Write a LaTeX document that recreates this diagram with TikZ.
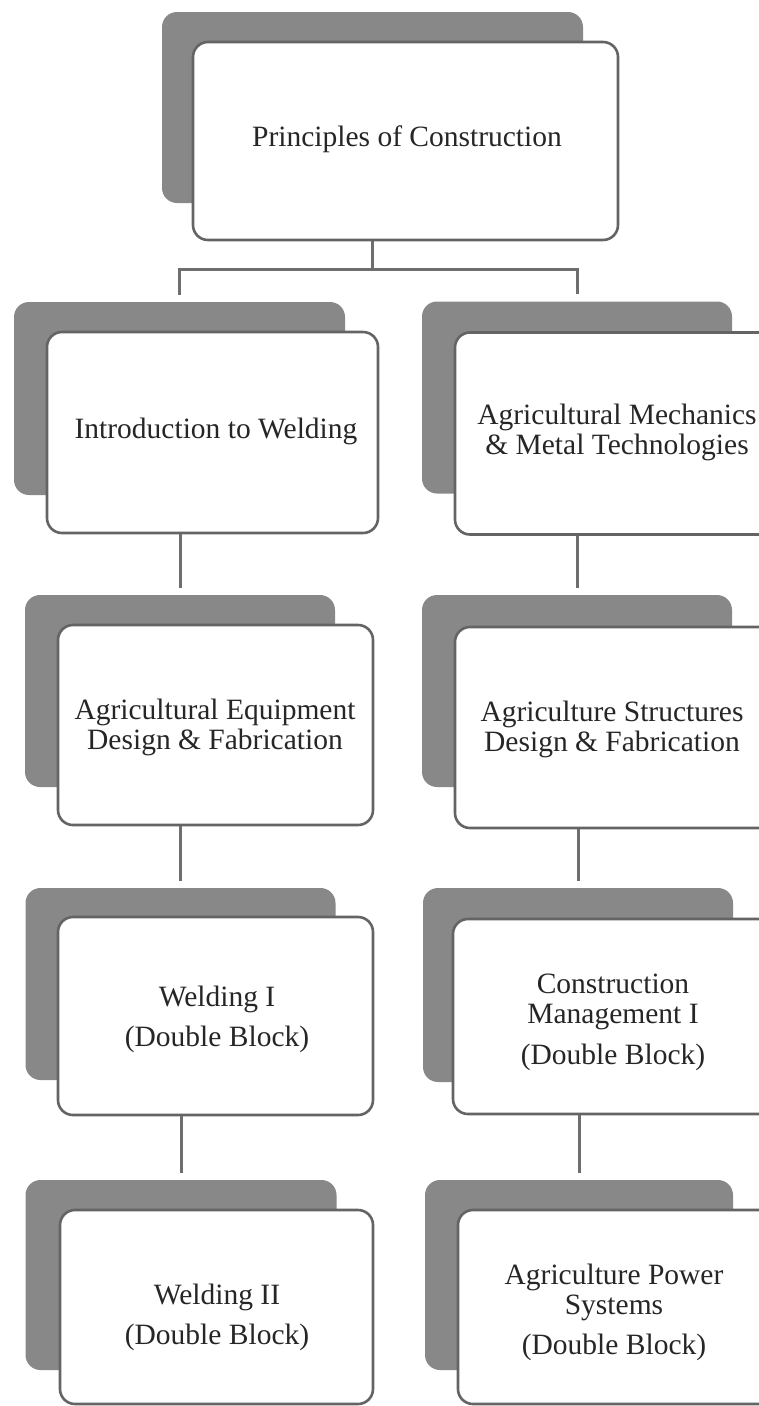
\documentclass[tikz,border=0pt]{standalone}
\usepackage{fontspec}
\setmainfont{Liberation Serif}
\definecolor{shadowgray}{RGB}{136,136,136}
\definecolor{bordergray}{RGB}{100,100,100}
\definecolor{linegray}{RGB}{110,110,110}
\begin{document}
\begin{tikzpicture}[x=1pt,y=-1pt,
  shadowbox/.style={rectangle,rounded corners=15pt,fill=shadowgray,draw=none,inner sep=0pt},
  cardbox/.style={rectangle,rounded corners=15pt,fill=white,draw=bordergray,line width=2.6pt,inner sep=0pt},
  cardtext/.style={align=center,inner sep=0pt,text=black!85,font=\fontsize{29.5}{30}\selectfont},
  conn/.style={draw=linegray,line width=3pt,line join=miter},
  gapped/.style={shorten >=7pt}]
\useasboundingbox (0,0) rectangle (759,1406);
\fill[white] (0,0) rectangle (759,1406);
\clip (0,0) rectangle (759,1406);

% top
\node[shadowbox,minimum width=421pt,minimum height=191pt] (stop) at (372.5,107.5) {};
\node[cardbox,minimum width=425pt,minimum height=198pt] (wtop) at (405.5,141) {};
\node[cardtext] (ttop) at (407,139) {Principles of Construction};

% row 1
\node[shadowbox,minimum width=331pt,minimum height=193pt] (s1l) at (179.5,398.5) {};
\node[cardbox,minimum width=331pt,minimum height=201pt] (w1l) at (212.5,432.5) {};
\node[cardtext] (t1l) at (216,431) {Introduction to Welding};
\node[shadowbox,minimum width=310pt,minimum height=192pt] (s1r) at (577,397.5) {};
\node[cardbox,minimum width=322pt,minimum height=202pt] (w1r) at (616,433.5) {};
\node[cardtext] (t1r) at (617,432) {Agricultural Mechanics\\\& Metal Technologies};

% row 2
\node[shadowbox,minimum width=310pt,minimum height=192pt] (s2l) at (180,691) {};
\node[cardbox,minimum width=315pt,minimum height=200pt] (w2l) at (215.5,725) {};
\node[cardtext] (t2l) at (215,727) {Agricultural Equipment\\Design \& Fabrication};
\node[shadowbox,minimum width=310pt,minimum height=192pt] (s2r) at (577,691) {};
\node[cardbox,minimum width=322pt,minimum height=201pt] (w2r) at (616,727.5) {};
\node[cardtext] (t2r) at (612,729) {Agriculture Structures\\Design \& Fabrication};

% row 3
\node[shadowbox,minimum width=310pt,minimum height=192pt] (s3l) at (180.5,984) {};
\node[cardbox,minimum width=315pt,minimum height=198pt] (w3l) at (215.5,1016) {};
\node[cardtext] (t3l) at (217,1019) {Welding I\\[10pt](Double Block)};
\node[shadowbox,minimum width=310pt,minimum height=194pt] (s3r) at (578,985) {};
\node[cardbox,minimum width=322pt,minimum height=195pt] (w3r) at (614,1016.5) {};
\node[cardtext] (t3r) at (613,1022) {Construction\\Management I\\[11pt](Double Block)};

% row 4
\node[shadowbox,minimum width=311pt,minimum height=190pt] (s4l) at (181,1275) {};
\node[cardbox,minimum width=313pt,minimum height=194pt] (w4l) at (216.5,1307) {};
\node[cardtext] (t4l) at (217,1317) {Welding II\\[10pt](Double Block)};
\node[shadowbox,minimum width=308pt,minimum height=190pt] (s4r) at (579,1275) {};
\node[cardbox,minimum width=322pt,minimum height=194pt] (w4r) at (619,1307) {};
\node[cardtext] (t4r) at (614,1312) {Agriculture Power\\Systems\\[10pt](Double Block)};

% connectors
\draw[conn,gapped] (stop.center |- wtop.south) -- ++(0,28) -| (s1l.north);
\draw[conn,gapped] (stop.center |- wtop.south) -- ++(0,28) -| (s1r.north);
\draw[conn,gapped] (s2l.north |- w1l.south) -- (s2l.north);
\draw[conn,gapped] (s2r.north |- w1r.south) -- (s2r.north);
\draw[conn,gapped] (s3l.north |- w2l.south) -- (s3l.north);
\draw[conn,gapped] (s3r.north |- w2r.south) -- (s3r.north);
\draw[conn,gapped] (s4l.north |- w3l.south) -- (s4l.north);
\draw[conn,gapped] (s4r.north |- w3r.south) -- (s4r.north);
\end{tikzpicture}
\end{document}
